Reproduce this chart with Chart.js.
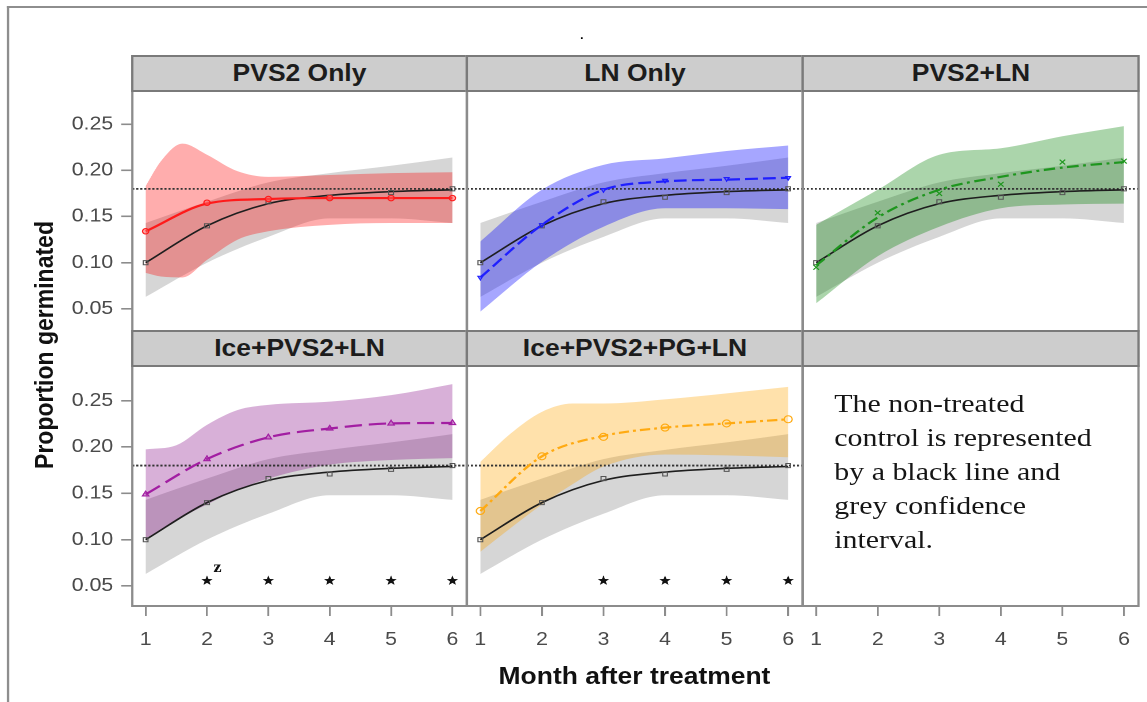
<!DOCTYPE html>
<html lang="en">
<head>
  <meta charset="UTF-8" />
  <title>Proportion germinated by month after treatment</title>
  <style>
    html, body {
      margin: 0;
      padding: 0;
      background: #fff;
    }

    body {
      width: 1147px;
      height: 702px;
      overflow: hidden;
      position: relative;
    }

    /* the reference figure is stretched sideways, so the whole figure is too */
    #figure {
      position: absolute;
      left: 0;
      top: 0;
      width: 997.4px;
      height: 702px;
      transform: scaleX(1.15);
      transform-origin: 0 0;
      font-family: 'Liberation Sans', Arial, sans-serif;
    }

    .abs {
      position: absolute;
    }

    .outer {
      border-top: 2px solid #8e8e8e;
      border-left: 2px solid #8e8e8e;
    }

    .strip {
      box-sizing: border-box;
      background: #cdcdcd;
      border: 2px solid #7a7a7a;
      display: flex;
      align-items: center;
      justify-content: center;
      font-weight: bold;
      font-size: 23px;
      color: #1c1c1c;
      white-space: nowrap;
      z-index: 3;
    }

    .frame {
      box-sizing: border-box;
      border: 2px solid #8c8c8c;
      pointer-events: none;
      z-index: 2;
    }

    .title {
      font-weight: bold;
      font-size: 23px;
      color: #111;
      text-align: center;
      line-height: 30px;
      white-space: nowrap;
    }

    #note {
      font-family: 'Liberation Serif', 'Times New Roman', serif;
      font-size: 26px;
      line-height: 34px;
      color: #151515;
      white-space: nowrap;
      z-index: 4;
    }
  </style>
</head>
<body>

<div id="figure">
  <div class="abs outer" style="left:6px; top:6px; width:1000px; height:700px;"></div>
  <div class="abs" style="left:503.6px; top:25.8px; font-size:16px; line-height:16px; color:#000;">.</div>

  <div class="abs title" id="ytitle">Proportion germinated</div>
  <div class="abs title" id="xtitle">Month after treatment</div>

  <div class="abs" id="note">The non-treated<br>control is represented<br>by a black line and<br>grey confidence<br>interval.</div>
</div>

<script src="https://cdn.jsdelivr.net/npm/chart.js"></script>

<script>
// ---- values ----
const months = [1, 2, 3, 4, 5, 6];
const yTicks = [0.05, 0.10, 0.15, 0.20, 0.25];
const panelTitles = ['PVS2 Only', 'LN Only', 'PVS2+LN', 'Ice+PVS2+LN', 'Ice+PVS2+PG+LN', ''];
const refLevel = 0.18;       // dotted line
const starLevel = 0.0557;

// non-treated control (black line, grey band)
const controlFit   = [0.100, 0.140, 0.164, 0.173, 0.177, 0.179];
const controlObs   = [0.100, 0.140, 0.166, 0.171, 0.176, 0.180];
const controlUpper = [0.143, 0.166, 0.187, 0.197, 0.205, 0.214];
const controlLower = [0.063, 0.100, 0.128, 0.148, 0.148, 0.143];

// PVS2 Only
const pvs2Fit   = [0.134, 0.164, 0.169, 0.170, 0.170, 0.170];
const pvs2Obs   = [0.134, 0.165, 0.169, 0.170, 0.170, 0.170];
const pvs2BandX = [1, 1.25, 1.6, 2, 2.5, 3, 4, 5, 6];
const pvs2Upper = [0.183, 0.210, 0.229, 0.217, 0.199, 0.193, 0.195, 0.197, 0.198];
const pvs2Lower = [0.089, 0.085, 0.084, 0.103, 0.125, 0.134, 0.141, 0.143, 0.143];

// LN Only
const lnFit   = [0.084, 0.141, 0.179, 0.188, 0.190, 0.192];
const lnObs   = [0.084, 0.141, 0.179, 0.189, 0.191, 0.192];
const lnBandX = [1, 2, 3, 4, 5, 6];
const lnUpper = [0.123, 0.179, 0.206, 0.213, 0.221, 0.227];
const lnLower = [0.047, 0.101, 0.139, 0.159, 0.159, 0.158];

// PVS2+LN
const plnFit   = [0.097, 0.149, 0.179, 0.193, 0.203, 0.209];
const plnObs   = [0.095, 0.154, 0.175, 0.185, 0.209, 0.210];
const plnBandX = [1, 2, 3, 4, 5, 6];
const plnUpper = [0.141, 0.179, 0.217, 0.224, 0.237, 0.248];
const plnLower = [0.056, 0.107, 0.139, 0.159, 0.163, 0.164];

// Ice+PVS2+LN
const ipFit   = [0.149, 0.187, 0.2105, 0.220, 0.2255, 0.226];
const ipObs   = [0.149, 0.187, 0.2105, 0.220, 0.2255, 0.226];
const ipBandX = [1, 1.5, 2, 2.5, 3, 4, 5, 6];
const ipUpper = [0.1975, 0.202, 0.224, 0.240, 0.2455, 0.249, 0.256, 0.268];
const ipLower = [0.101, 0.121, 0.138, 0.154, 0.166, 0.181, 0.186, 0.188];
const ipStars = [2, 3, 4, 5, 6];

// Ice+PVS2+PG+LN
const ipgFit   = [0.131, 0.190, 0.212, 0.221, 0.2255, 0.230];
const ipgObs   = [0.131, 0.190, 0.211, 0.221, 0.2255, 0.230];
const ipgBandX = [1, 1.5, 2, 2.5, 3, 4, 5, 6];
const ipgUpper = [0.184, 0.215, 0.238, 0.247, 0.247, 0.2515, 0.258, 0.265];
const ipgLower = [0.087, 0.113, 0.138, 0.160, 0.179, 0.192, 0.191, 0.189];
const ipgStars = [3, 4, 5, 6];

// the small "z" beside the first star
const noteX = [2.17];
const noteY = [0.0694];

// ---- layout, in reference pixels ----
const SX = 1.15;                       // horizontal stretch of the reference
const ix = X => X / SX;
const colEdges = [132, 467, 803, 1139];
const stripTops = [56, 331];
const plotTops = [91, 366];
const plotH = 240;
const yLimits = [[0.026, 0.286], [0.0284, 0.2875]];
const xLimits = [0.782, 6.236];
const YAXW = 62;
const XAXH = 50;

const greyBand = '#d6d6d6';
const fig = document.getElementById('figure');

Chart.defaults.font.family = "'Liberation Sans', Arial, sans-serif";

const series = [
  { fit: pvs2Fit, obs: pvs2Obs, bandX: pvs2BandX, upper: pvs2Upper, lower: pvs2Lower,
    color: '#ff1a1a', band: 'rgba(255,0,0,0.32)', dash: [],
    marker: 'circle', mSize: 2.7, mRot: 0, mFill: 'rgba(255,90,90,0.55)', stars: [] },
  { fit: lnFit, obs: lnObs, bandX: lnBandX, upper: lnUpper, lower: lnLower,
    color: '#1f1fff', band: 'rgba(0,0,255,0.35)', dash: [11, 4.5],
    marker: 'triangle', mSize: 2.4, mRot: 180, mFill: 'rgba(60,60,255,0.45)', stars: [] },
  { fit: plnFit, obs: plnObs, bandX: plnBandX, upper: plnUpper, lower: plnLower,
    color: '#1e961e', band: 'rgba(0,128,0,0.33)', dash: [10, 4, 2.5, 4],
    marker: 'crossRot', mSize: 3.4, mRot: 0, mFill: 'rgba(0,0,0,0)', stars: [] },
  { fit: ipFit, obs: ipObs, bandX: ipBandX, upper: ipUpper, lower: ipLower,
    color: '#a21ea2', band: 'rgba(128,0,128,0.31)', dash: [15, 6],
    marker: 'triangle', mSize: 3.2, mRot: 0, mFill: 'rgba(170,50,170,0.45)', stars: ipStars },
  { fit: ipgFit, obs: ipgObs, bandX: ipgBandX, upper: ipgUpper, lower: ipgLower,
    color: '#ffaa12', band: 'rgba(255,165,0,0.33)', dash: [9, 3.5, 2.5, 3.5],
    marker: 'circle', mSize: 3.5, mRot: 0, mFill: 'rgba(255,255,255,0)', stars: ipgStars }
];

function curve(xs, ys) {
  return xs.map((x, i) => ({ x: x, y: ys[i] }));
}

function drawStar(ctx, x, y, r) {
  ctx.beginPath();
  for (let i = 0; i < 10; i++) {
    const rad = i % 2 ? r * 0.42 : r;
    const a = -Math.PI / 2 + i * Math.PI / 5;
    ctx.lineTo(x + rad * Math.cos(a), y + rad * Math.sin(a));
  }
  ctx.closePath();
  ctx.fill();
}

// stars and the "z" note sit on points placed by the chart's scales
const marksPlugin = {
  id: 'marks',
  afterDatasetsDraw(chart) {
    const ctx = chart.ctx;
    chart.data.datasets.forEach((ds, i) => {
      const meta = chart.getDatasetMeta(i);
      ctx.save();
      if (ds.starSize) {
        ctx.fillStyle = '#111';
        meta.data.forEach(pt => drawStar(ctx, pt.x, pt.y, ds.starSize));
      }
      if (ds.noteText) {
        ctx.fillStyle = '#111';
        ctx.font = "bold 16px 'Liberation Serif', serif";
        ctx.textAlign = 'center';
        ctx.textBaseline = 'middle';
        meta.data.forEach(pt => ctx.fillText(ds.noteText, pt.x, pt.y));
      }
      ctx.restore();
    });
  }
};

function panelDatasets(p, idx) {
  const sets = [];
  sets.push({ data: curve(months, controlUpper), borderWidth: 0, borderColor: 'rgba(0,0,0,0)', fill: false });
  sets.push({ data: curve(months, controlLower), borderWidth: 0, borderColor: 'rgba(0,0,0,0)', fill: '-1', backgroundColor: greyBand });
  sets.push({ data: curve(p.bandX, p.upper), borderWidth: 0, borderColor: 'rgba(0,0,0,0)', fill: false });
  sets.push({ data: curve(p.bandX, p.lower), borderWidth: 0, borderColor: 'rgba(0,0,0,0)', fill: '-1', backgroundColor: p.band });
  sets.push({
    data: [{ x: xLimits[0], y: refLevel }, { x: xLimits[1], y: refLevel }],
    borderColor: '#333', borderWidth: 1.8, borderDash: [1.8, 1.7], cubicInterpolationMode: 'default', tension: 0
  });
  sets.push({ data: curve(months, controlFit), borderColor: '#1e1e1e', borderWidth: 1.6 });
  sets.push({
    data: curve(months, controlObs), showLine: false, pointRadius: 2.9, pointStyle: 'rect',
    pointBorderColor: '#555', pointBackgroundColor: 'rgba(0,0,0,0)', pointBorderWidth: 1
  });
  sets.push({ data: curve(months, p.fit), borderColor: p.color, borderWidth: 2.2, borderDash: p.dash });
  sets.push({
    data: curve(months, p.obs), showLine: false, pointRadius: p.mSize, pointStyle: p.marker,
    pointRotation: p.mRot, pointBorderColor: p.color, pointBackgroundColor: p.mFill, pointBorderWidth: 1.1
  });
  if (p.stars.length) {
    sets.push({ data: p.stars.map(x => ({ x: x, y: starLevel })), showLine: false, pointRadius: 0, starSize: 5.2 });
  }
  if (idx === 3) {
    sets.push({ data: curve(noteX, noteY), showLine: false, pointRadius: 0, noteText: 'z' });
  }
  sets.forEach((s, i) => { s.order = -i; });
  return sets;
}

function addDiv(cls, left, top, width, height, text) {
  const d = document.createElement('div');
  d.className = 'abs ' + cls;
  d.style.left = left + 'px';
  d.style.top = top + 'px';
  d.style.width = width + 'px';
  d.style.height = height + 'px';
  if (text) d.textContent = text;
  fig.appendChild(d);
  return d;
}

for (let r = 0; r < 2; r++) {
  for (let c = 0; c < 3; c++) {
    const idx = r * 3 + c;
    const x0 = ix(colEdges[c]);
    const x1 = ix(colEdges[c + 1]);
    const showY = c === 0;
    const showX = r === 1;

    addDiv('strip', x0 - 1, stripTops[r] - 1, x1 - x0 + 2, plotTops[r] - stripTops[r] + 2, panelTitles[idx]);
    addDiv('frame', x0 - 1, plotTops[r] - 1, x1 - x0 + 2, plotH + 2);

    const holder = addDiv('', x0 - (showY ? YAXW : 0), plotTops[r], 1, 1);
    holder.style.zIndex = 1;
    const canvas = document.createElement('canvas');
    canvas.width = Math.round(x1 - x0) + (showY ? YAXW : 0);
    canvas.height = plotH + (showX ? XAXH : 0);
    holder.appendChild(canvas);

    new Chart(canvas, {
      type: 'line',
      data: { datasets: idx < 5 ? panelDatasets(series[idx], idx) : [] },
      options: {
        responsive: false,
        devicePixelRatio: 2,
        animation: false,
        events: [],
        layout: { padding: 0, autoPadding: false },
        elements: {
          point: { radius: 0 },
          line: { cubicInterpolationMode: 'monotone', borderCapStyle: 'butt' }
        },
        plugins: { legend: { display: false }, tooltip: { enabled: false } },
        scales: {
          x: {
            type: 'linear',
            min: xLimits[0],
            max: xLimits[1],
            display: showX,
            afterBuildTicks: s => { s.ticks = months.map(v => ({ value: v })); },
            afterFit: s => { s.height = showX ? XAXH : 0; s.paddingLeft = 0; s.paddingRight = 0; },
            grid: { drawOnChartArea: false, drawTicks: true, tickLength: 10, color: '#8c8c8c', lineWidth: 1.6 },
            border: { display: false },
            ticks: {
              padding: 13, color: '#4a4a4a', autoSkip: false, maxRotation: 0,
              font: { size: 18.5 }, callback: v => String(v)
            }
          },
          y: {
            type: 'linear',
            min: yLimits[r][0],
            max: yLimits[r][1],
            display: showY,
            afterBuildTicks: s => { s.ticks = yTicks.map(v => ({ value: v })); },
            afterFit: s => { s.width = showY ? YAXW : 0; s.paddingTop = 0; s.paddingBottom = 0; },
            grid: { drawOnChartArea: false, drawTicks: true, tickLength: 9.6, color: '#8c8c8c', lineWidth: 1.6 },
            border: { display: false },
            ticks: {
              padding: 7, color: '#4a4a4a',
              font: { size: 18.5 }, callback: v => v.toFixed(2)
            }
          }
        }
      },
      plugins: [marksPlugin]
    });
  }
}

// axis titles and the note, placed in reference pixels
const yt = document.getElementById('ytitle');
yt.style.width = '400px';
yt.style.left = (ix(43.5) - 200) + 'px';
yt.style.top = (345 - 15) + 'px';
yt.style.transform = 'rotate(-90deg)';

const xt = document.getElementById('xtitle');
xt.style.width = '400px';
xt.style.left = (ix(634.5) - 200) + 'px';
xt.style.top = '661px';

const note = document.getElementById('note');
note.style.left = ix(834.3) + 'px';
note.style.top = '387px';
</script>

</body>
</html>
